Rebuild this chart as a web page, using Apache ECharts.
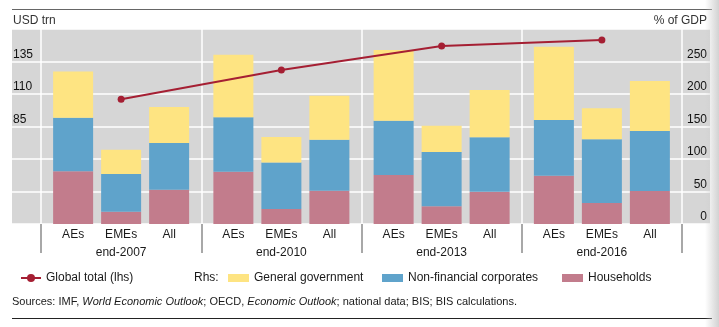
<!DOCTYPE html>
<html>
<head>
<meta charset="utf-8">
<script src="https://cdn.jsdelivr.net/npm/echarts@6/dist/echarts.min.js"></script>
<style>
  html, body { margin: 0; padding: 0; background: #ffffff; }
  #chart { width: 719px; height: 327px; }
</style>
</head>
<body>
<div id="chart"></div>
<script>
// Periods and country groups
const years = ['end-2007', 'end-2010', 'end-2013', 'end-2016'];
const groups = ['AEs', 'EMEs', 'All'];

// Global total debt, USD trn (left axis)
const globalTotal = [106, 128.5, 147, 151.5];

// Debt by sector, % of GDP (right axis); one row per group (AEs, EMEs, All), one column per year
const households = [
  [81, 80.5, 75.4, 74.4],
  [19, 23, 27.2, 32.3],
  [52.8, 51.3, 49.7, 50.8]
];
const corporates = [
  [82.5, 83.6, 83.6, 85.6],
  [58, 71.8, 83.6, 97.9],
  [71.8, 78.4, 83.6, 92.2]
];
const government = [
  [71, 96.4, 108.7, 112.8],
  [37.3, 38.9, 40.5, 47.7],
  [55.4, 67.7, 72.9, 77]
];

// Axis tick values
const lhsTicks = [85, 110, 135];
const rhsMin = 0, rhsMax = 300, rhsStep = 50;
const lhsMin = 10, lhsMax = 160;

const FONT = '"Liberation Sans", Arial, sans-serif';
const COL = {
  gov: '#fee482',
  nfc: '#5fa3cb',
  hh: '#c27c8c',
  line: '#a51f33',
  panel: '#d6d6d6'
};

const sectors = [
  { name: 'Households', data: households, color: COL.hh },
  { name: 'Non-financial corporates', data: corporates, color: COL.nfc },
  { name: 'General government', data: government, color: COL.gov }
];

const series = [];
groups.forEach((g, gi) => {
  sectors.forEach(s => {
    series.push({
      name: s.name,
      type: 'bar',
      xAxisIndex: 0,
      yAxisIndex: 1,
      stack: g,
      barWidth: 40,
      barGap: '20%',
      itemStyle: { color: s.color },
      emphasis: { disabled: true },
      data: s.data[gi]
    });
  });
});
series.push({
  name: 'Global total (lhs)',
  type: 'line',
  xAxisIndex: 0,
  yAxisIndex: 0,
  data: globalTotal,
  symbol: 'circle',
  symbolSize: 7,
  lineStyle: { color: COL.line, width: 2 },
  itemStyle: { color: COL.line },
  z: 5
});

const legendBase = {
  orient: 'horizontal',
  padding: 0,
  top: 272,
  itemHeight: 8,
  itemGap: 0,
  selectedMode: false,
  textStyle: { fontFamily: FONT, fontSize: 12, color: '#1a1a1a' }
};

const chart = echarts.init(document.getElementById('chart'), null, { renderer: 'canvas' });
chart.setOption({
  animation: false,
  backgroundColor: '#ffffff',
  textStyle: { fontFamily: FONT },
  grid: [
    { left: 41, right: 37, top: 29, bottom: 103, show: false },
    { left: 12, right: 9, top: 29, bottom: 103, show: true, backgroundColor: COL.panel, borderWidth: 0, z: -1 }
  ],
  xAxis: [
    {
      type: 'category',
      gridIndex: 0,
      data: years,
      axisLine: { show: false },
      axisTick: { show: true, length: 29, lineStyle: { color: '#8c8c8c', width: 1.5 } },
      splitLine: { show: true, lineStyle: { color: '#ffffff', width: 1.5 } },
      axisLabel: {
        margin: 2,
        interval: 0,
        formatter: v => groups.map(g => '{a|' + g + '}').join('') + '\n{b|' + v + '}',
        rich: {
          a: { width: 48, align: 'center', fontSize: 12, lineHeight: 18, color: '#1a1a1a', fontFamily: FONT },
          b: { fontSize: 12, lineHeight: 18, color: '#1a1a1a', fontFamily: FONT }
        }
      }
    },
    { type: 'value', gridIndex: 1, show: false, min: 0, max: 1 }
  ],
  yAxis: [
    {
      type: 'value',
      gridIndex: 0,
      position: 'left',
      min: lhsMin,
      max: lhsMax,
      axisLine: { show: false },
      axisTick: { show: false },
      splitLine: { show: false },
      axisLabel: {
        customValues: lhsTicks,
        align: 'left',
        verticalAlign: 'bottom',
        margin: 28,
        padding: [0, 0, 1, 0],
        fontSize: 12,
        color: '#111',
        fontFamily: FONT
      }
    },
    {
      type: 'value',
      gridIndex: 0,
      position: 'right',
      min: rhsMin,
      max: rhsMax,
      interval: rhsStep,
      axisLine: { show: false },
      axisTick: { show: false },
      splitLine: { show: false },
      axisLabel: {
        showMaxLabel: false,
        align: 'right',
        verticalAlign: 'bottom',
        margin: 25,
        padding: [0, 0, 1, 0],
        fontSize: 12,
        color: '#111',
        fontFamily: FONT
      }
    },
    {
      type: 'value',
      gridIndex: 1,
      min: rhsMin,
      max: rhsMax,
      interval: rhsStep,
      axisLine: { show: false },
      axisTick: { show: false },
      axisLabel: { show: false },
      splitLine: { show: true, lineStyle: { color: '#ffffff', width: 1.5 } }
    }
  ],
  legend: [
    Object.assign({}, legendBase, { left: 20, itemWidth: 20, itemHeight: 10, data: ['Global total (lhs)'] }),
    Object.assign({}, legendBase, { left: 228, itemWidth: 21, data: [{ name: 'General government', icon: 'rect' }] }),
    Object.assign({}, legendBase, { left: 382, itemWidth: 21, data: [{ name: 'Non-financial corporates', icon: 'rect' }] }),
    Object.assign({}, legendBase, { left: 562, itemWidth: 21, data: [{ name: 'Households', icon: 'rect' }] })
  ],
  graphic: [
    { type: 'line', shape: { x1: 12, y1: 9.5, x2: 712, y2: 9.5 }, style: { stroke: '#666', lineWidth: 1 }, silent: true },
    { type: 'line', shape: { x1: 12, y1: 318.5, x2: 712, y2: 318.5 }, style: { stroke: '#222', lineWidth: 1 }, silent: true },
    { type: 'text', left: 13, top: 15, style: { text: 'USD trn', font: '12px ' + FONT, fill: '#333' }, silent: true },
    { type: 'text', right: 12, top: 15, style: { text: '% of GDP', font: '12px ' + FONT, fill: '#333' }, silent: true },
    { type: 'text', left: 194, top: 272, style: { text: 'Rhs:', font: '12px ' + FONT, fill: '#1a1a1a' }, silent: true },
    {
      type: 'text', left: 12, top: 296, silent: true,
      style: {
        text: '{r|Sources: IMF, }{i|World Economic Outlook}{r|; OECD, }{i|Economic Outlook}{r|; national data; BIS; BIS calculations.}',
        rich: {
          r: { font: '11px ' + FONT, fill: '#1a1a1a' },
          i: { font: 'italic 11px ' + FONT, fill: '#1a1a1a' }
        }
      }
    },
    {
      type: 'rect', right: 0, top: 0, z: 100, silent: true,
      shape: { width: 14, height: 327 },
      style: {
        fill: new echarts.graphic.LinearGradient(0, 0, 1, 0, [
          { offset: 0, color: 'rgba(205,205,205,0)' },
          { offset: 1, color: 'rgba(205,205,205,0.9)' }
        ])
      }
    }
  ],
  series: series
});
</script>
</body>
</html>
